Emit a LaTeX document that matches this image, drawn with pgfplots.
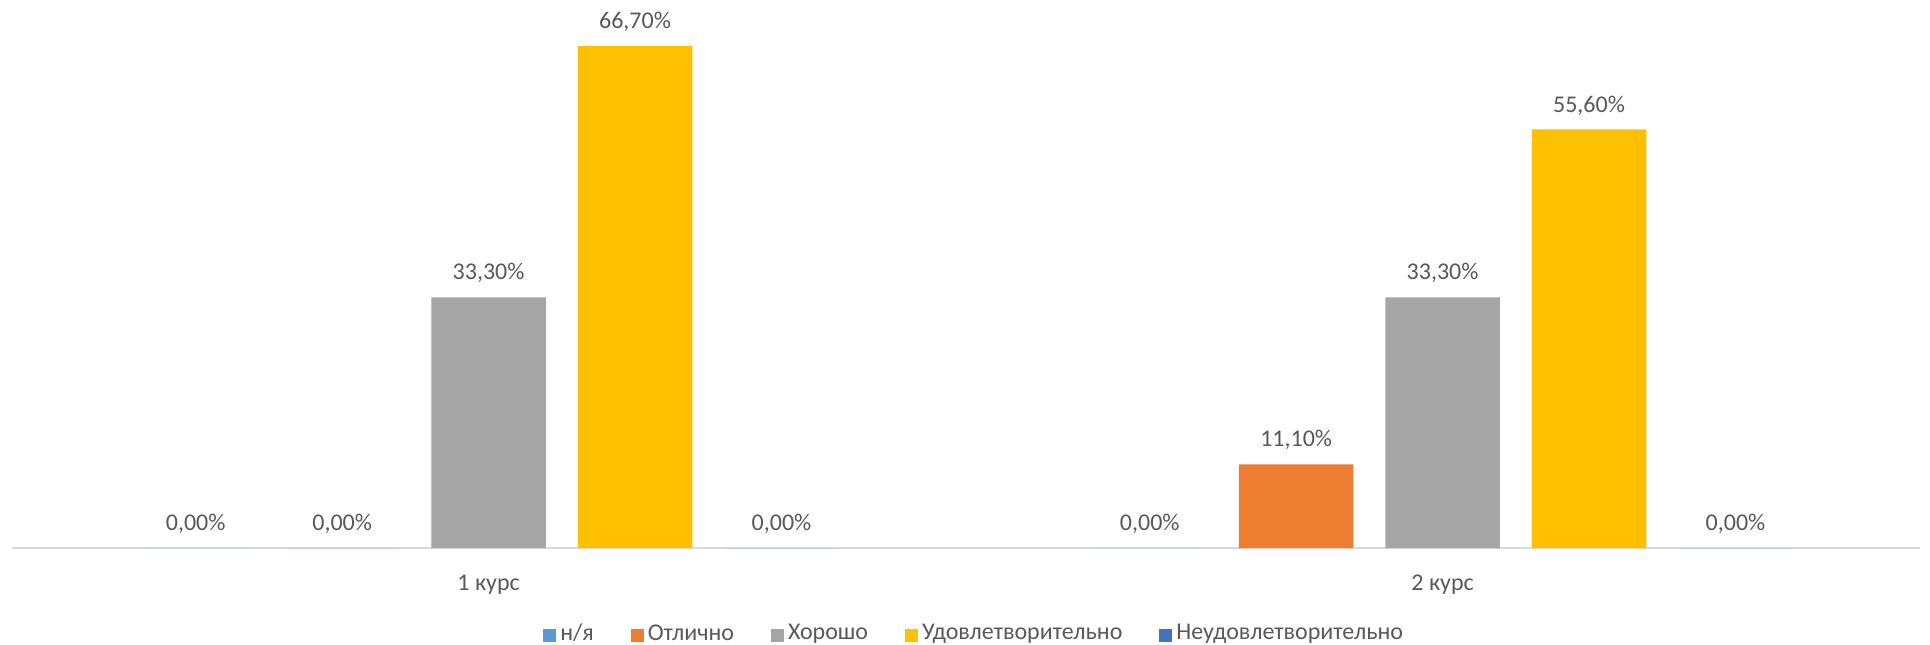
\documentclass[border=0pt]{standalone}
\usepackage{fontspec}
\setmainfont{Carlito}
\usepackage{pgfplots}
\pgfplotsset{compat=1.18}
\definecolor{cNA}{HTML}{5B9BD5}
\definecolor{cExc}{HTML}{ED7D31}
\definecolor{cGood}{HTML}{A5A5A5}
\definecolor{cSat}{HTML}{FFC000}
\definecolor{cFail}{HTML}{4472C4}
\definecolor{txt}{HTML}{595959}
\definecolor{axl}{HTML}{D9D9D9}
\begin{document}
\fontsize{12}{14}\selectfont
\begin{tikzpicture}
\useasboundingbox (0,0) rectangle (965pt,322pt);
\begin{axis}[
  at={(5.8pt,48pt)}, anchor=south west,
  scale only axis, width=954pt, height=274pt,
  xmin=-0.5, xmax=1.5, ymin=0, ymax=72.8,
  ybar, bar width=0.12,
  xtick={0,1}, xticklabels={1 курс, 2 курс},
  ytick=\empty,
  axis x line=bottom, axis y line=none,
  axis line style={-, draw=axl, line width=1pt},
  xtick style={draw=none},
  clip=false,
  tick label style={font=\fontsize{12}{14}\selectfont, text=txt},
  xticklabel style={yshift=-7pt},
  nodes near coords={\pgfmathprintnumber[fixed,fixed zerofill,precision=2,use comma,assume math mode=true]{\pgfplotspointmeta}\%},
  every node near coord/.append style={font=\fontsize{12}{14}\selectfont, text=txt, yshift=3pt},
  legend columns=5,
  legend style={at={(0.505,-0.157)}, anchor=center, draw=none, fill=none,
    font=\fontsize{12}{14}\selectfont, text=txt,
    /tikz/every even column/.append style={column sep=16.5pt}},
  legend image code/.code={\fill[#1] (0pt,-3.8pt) rectangle (6.5pt,2.7pt);},
]
\addplot[fill=cNA, draw=none, bar shift=-0.307] coordinates {(0,0) (1,0)};
\addplot[fill=cExc, draw=none, bar shift=-0.1535] coordinates {(0,0) (1,11.1)};
\addplot[fill=cGood, draw=none, bar shift=0] coordinates {(0,33.3) (1,33.3)};
\addplot[fill=cSat, draw=none, bar shift=0.1535] coordinates {(0,66.7) (1,55.6)};
\addplot[fill=cFail, draw=none, bar shift=0.307] coordinates {(0,0) (1,0)};
\legend{н/я, Отлично, Хорошо, Удовлетворительно, Неудовлетворительно}
\end{axis}
\end{tikzpicture}
\end{document}
